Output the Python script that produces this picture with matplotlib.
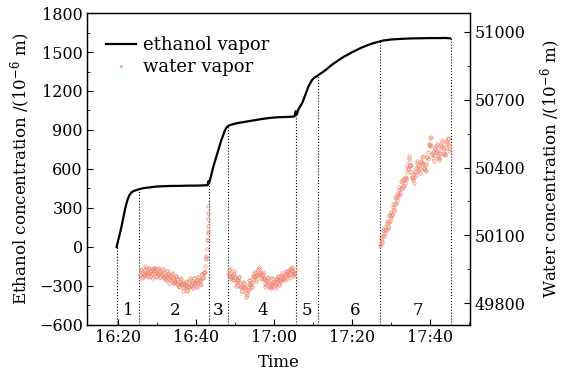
import numpy as np
import matplotlib
matplotlib.use('Agg')
import matplotlib.pyplot as plt
from matplotlib.ticker import MultipleLocator, FuncFormatter

plt.rcParams['font.family'] = ['DejaVu Serif']
plt.rcParams['mathtext.fontset'] = 'dejavuserif'

# time in minutes after 16:00
eth_t = [19.7, 20.0, 20.5, 21.0, 21.5, 22.0, 22.5, 23.0, 23.5, 24.0, 24.5, 25.0, 25.5, 26.5,
         28, 30, 32, 34, 36, 38, 40, 42, 43.0, 43.2, 43.4, 44.0, 44.5, 45.0, 45.5, 46.0, 46.5,
         47.0, 47.5, 48.0, 48.5, 49.5, 51, 53, 55, 57, 59, 61, 63, 64.5, 65.3, 65.6, 65.9,
         66.3, 66.8, 67.3, 67.8, 68.3, 68.8, 69.3, 69.8, 70.3, 70.8, 71.3, 72, 73, 74, 75,
         76, 77, 78, 79, 80, 81, 82, 83, 84, 85, 86, 87, 88, 89, 90, 92, 94, 96, 98, 100,
         102, 104, 105.2]
eth_v = [0, 40, 100, 165, 240, 310, 365, 400, 420, 430, 435, 440, 445, 452,
         458, 465, 468, 470, 470, 472, 472, 474, 475, 505, 490, 560, 620, 670, 720, 770, 820,
         860, 900, 925, 935, 945, 955, 965, 975, 985, 993, 998, 1000, 1002, 1005, 1045, 1020,
         1060, 1085, 1110, 1150, 1190, 1230, 1260, 1285, 1300, 1310, 1320, 1335, 1355, 1380, 1405,
         1425, 1445, 1465, 1480, 1498, 1512, 1527, 1540, 1552, 1563, 1572, 1580, 1588, 1592, 1596,
         1600, 1603, 1605, 1606, 1607, 1607, 1608, 1605]

# water vapour, three measuring windows (sampled every 0.125 min)
w2_v = [49925, 49923, 49945, 49952, 49935, 49913, 49915, 49932, 49925, 49923,
        49945, 49962, 49955, 49930, 49930, 49937, 49920, 49915, 49935, 49954,
        49950, 49933, 49940, 49942, 49920, 49913, 49930, 49952, 49950, 49940,
        49955, 49957, 49935, 49915, 49920, 49939, 49935, 49930, 49950, 49957,
        49940, 49915, 49915, 49932, 49925, 49923, 49945, 49952, 49935, 49913,
        49915, 49922, 49905, 49903, 49925, 49944, 49940, 49920, 49925, 49927,
        49905, 49890, 49900, 49922, 49920, 49913, 49930, 49932, 49910, 49888,
        49890, 49904, 49895, 49893, 49915, 49922, 49905, 49883, 49885, 49892,
        49875, 49873, 49895, 49912, 49905, 49883, 49885, 49889, 49870, 49855,
        49865, 49887, 49885, 49878, 49895, 49897, 49875, 49855, 49860, 49877,
        49870, 49870, 49895, 49909, 49900, 49878, 49880, 49887, 49870, 49868,
        49890, 49912, 49910, 49890, 49895, 49897, 49875, 49870, 49890, 49914,
        49915, 49895, 49900, 49904, 49885, 49883, 49905, 49929, 49930, 49910,
        49915, 49937, 49935, 49938, 49965, 49994, 50000, 50008, 50040, 50080,
        50120]
w2_spike = [50080, 50110, 50140, 50170, 50200, 50230]
w4_v = [49930, 49925, 49945, 49952, 49935, 49913, 49915, 49922, 49905, 49903,
        49925, 49942, 49935, 49913, 49915, 49917, 49895, 49875, 49880, 49902,
        49900, 49895, 49915, 49917, 49895, 49870, 49870, 49874, 49855, 49853,
        49875, 49894, 49890, 49868, 49870, 49869, 49845, 49828, 49835, 49859,
        49860, 49860, 49885, 49904, 49900, 49878, 49880, 49887, 49870, 49870,
        49895, 49919, 49920, 49915, 49935, 49937, 49915, 49898, 49905, 49927,
        49925, 49923, 49945, 49959, 49950, 49928, 49930, 49932, 49910, 49905,
        49925, 49939, 49930, 49908, 49910, 49912, 49890, 49873, 49880, 49902,
        49900, 49893, 49910, 49914, 49895, 49873, 49875, 49884, 49870, 49868,
        49890, 49909, 49905, 49885, 49890, 49894, 49875, 49868, 49885, 49907,
        49905, 49898, 49915, 49919, 49900, 49880, 49885, 49904, 49900, 49898,
        49920, 49934, 49925, 49905, 49910, 49919, 49905, 49903, 49925, 49944,
        49940, 49925, 49935, 49939, 49920, 49913, 49930, 49952, 49950, 49940,
        49955, 49959, 49940, 49920, 49925, 49942, 49935, 49928, 49945]
w7_v = [50060, 50054, 50085, 50098, 50075, 50067, 50095, 50125, 50120, 50097,
        50110, 50138, 50130, 50124, 50155, 50165, 50140, 50132, 50160, 50190,
        50185, 50162, 50175, 50203, 50195, 50192, 50225, 50238, 50215, 50209,
        50240, 50270, 50265, 50242, 50255, 50285, 50280, 50272, 50300, 50313,
        50290, 50282, 50310, 50340, 50335, 50309, 50320, 50350, 50345, 50319,
        50330, 50360, 50355, 50349, 50380, 50408, 50400, 50394, 50425, 50450,
        50440, 50407, 50410, 50413, 50380, 50352, 50360, 50370, 50345, 50332,
        50355, 50383, 50375, 50369, 50400, 50428, 50420, 50394, 50405, 50413,
        50385, 50374, 50400, 50430, 50425, 50417, 50445, 50450, 50420, 50392,
        50400, 50413, 50390, 50384, 50415, 50448, 50445, 50439, 50470, 50503,
        50500, 50497, 50530, 50533, 50500, 50462, 50460, 50468, 50440, 50429,
        50455, 50485, 50480, 50469, 50495, 50503, 50475, 50444, 50450, 50463,
        50440, 50434, 50465, 50498, 50495, 50487, 50515, 50520, 50490, 50459,
        50465, 50480, 50460, 50454, 50485, 50518, 50515, 50502, 50525, 50530,
        50500, 50472, 50480]

# window boundaries (minutes after 16:00) and window numbers
bounds = [19.7, 25.4, 43.3, 48.2, 65.6, 71.3, 87.2, 105.3]
win_x = [22.6, 34.6, 45.7, 57.1, 68.4, 80.7, 96.9]
win_lbl = ['1', '2', '3', '4', '5', '6', '7']

w2_t = np.linspace(25.6, 43.1, len(w2_v))
w2s_t = np.linspace(43.12, 43.2, len(w2_spike))
w4_t = np.linspace(48.3, 65.4, len(w4_v))
w7_t = np.linspace(87.2, 105.1, len(w7_v))

fig = plt.figure(figsize=(5.74, 3.77), dpi=100)
ax = fig.add_axes([0.1516, 0.138, 0.8190 - 0.1516, 0.9655 - 0.138])
ax2 = ax.twinx()

ln, = ax.plot(eth_t, eth_v, color='black', lw=1.6, label='ethanol vapor')

wcol = '#ee8670'
mk = dict(ls='none', marker='o', ms=2.4, mfc='none', mec=wcol, mew=0.5)
pts, = ax2.plot(w2_t, w2_v, label='water vapor', **mk)
ax2.plot(w2s_t, w2_spike, **mk)
ax2.plot(w4_t, w4_v, **mk)
ax2.plot(w7_t, w7_v, **mk)

# dotted separators from the ethanol curve down to the bottom
for b in bounds:
    top = np.interp(b, eth_t, eth_v)
    ax.plot([b, b], [-600, top], color='black', ls=':', lw=0.8)

for x, s in zip(win_x, win_lbl):
    ax.text(x, -490, s, ha='center', va='center', fontsize=12)

ax.set_xlim(12.1, 110.3)
ax.set_ylim(-600, 1800)
ax2.set_ylim(49703, 51084)

ax.xaxis.set_major_locator(MultipleLocator(20))
ax.xaxis.set_minor_locator(MultipleLocator(10))
ax.xaxis.set_major_formatter(FuncFormatter(lambda v, p: '%d:%02d' % (16 + int(v) // 60, int(v) % 60)))
ax.yaxis.set_major_locator(MultipleLocator(300))
ax.yaxis.set_minor_locator(MultipleLocator(150))
ax2.yaxis.set_major_locator(MultipleLocator(300))
ax2.yaxis.set_minor_locator(MultipleLocator(150))
ax2.set_yticks([49800, 50100, 50400, 50700, 51000])

for a in (ax, ax2):
    a.tick_params(which='both', direction='in', labelsize=11.5, pad=3)
    a.tick_params(which='major', length=4)
    a.tick_params(which='minor', length=2.5)
    for s in a.spines.values():
        s.set_linewidth(0.9)
ax.tick_params(which='both', top=False, right=False)

ax.set_xlabel('Time', fontsize=12, labelpad=6)
ax.set_ylabel(r'Ethanol concentration /(10$^{-6}$ m)', fontsize=12, labelpad=4)
ax2.set_ylabel(r'Water concentration /(10$^{-6}$ m)', fontsize=12, labelpad=10)

ax.legend([ln, pts], ['ethanol vapor', 'water vapor'], loc='upper left',
          bbox_to_anchor=(0.02, 0.96), frameon=False, fontsize=13, markerscale=0.7,
          handlelength=1.7, handletextpad=0.4, borderaxespad=0.2, labelspacing=0.2)

fig.savefig('out.png', dpi=100)
